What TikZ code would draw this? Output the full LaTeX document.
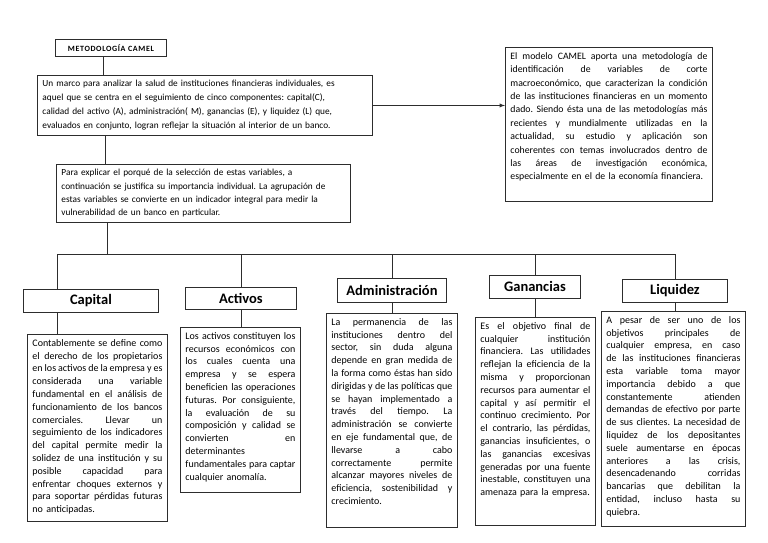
\documentclass[tikz,border=0pt]{standalone}
\usepackage{fontspec}
\setmainfont{Carlito}
\usetikzlibrary{positioning}
\definecolor{linec}{RGB}{45,45,45}
\newcommand\jl[1]{\noindent\hbox to\hsize{\spaceskip0pt\xspaceskip0pt #1}\\}
\tikzset{
	box/.style={draw=linec,line width=0.9pt,fill=white,anchor=north west,inner xsep=5pt,inner ysep=5pt,font=\fontsize{10}{12.8}\selectfont\frenchspacing\parindent0pt},
	head/.style={draw=linec,line width=0.9pt,fill=white,anchor=north west,inner sep=0pt,font=\bfseries\fontsize{14.5}{16}\selectfont}
}
\begin{document}
\begin{tikzpicture}[>=latex,x=1pt,y=-1pt,line width=0.9pt,draw=linec]
		\useasboundingbox[fill=white] (0,0) rectangle (768,543);
		\node[draw=linec,anchor=north west,minimum width=111pt,minimum height=17pt,inner sep=0pt,font=\bfseries\fontsize{8}{10}\selectfont\addfontfeature{LetterSpace=8}] (title) at (55,39) {METODOLOGÍA CAMEL};
		\node[box,text width=325pt,font=\fontsize{9.3}{14}\selectfont\frenchspacing\parindent0pt] (marco) at (37,75) {Un marco para analizar la salud de instituciones financieras individuales, es\\aquel que se centra en el seguimiento de cinco componentes: capital(C),\\calidad del activo (A), administración( M), ganancias (E), y liquidez (L) que,\\evaluados en conjunto, logran reflejar la situación al interior de un banco.};
		\node[box,text width=197pt,text depth=137pt,font=\fontsize{9.8}{13.4}\selectfont\frenchspacing\parindent0pt] (camel) at (505,47) {\jl{El modelo CAMEL aporta una metodología de}\jl{identificación de variables de corte}\jl{macroeconómico, que caracterizan la condición}\jl{de las instituciones financieras en un momento}\jl{dado. Siendo ésta una de las metodologías más}\jl{recientes y mundialmente utilizadas en la}\jl{actualidad, su estudio y aplicación son}\jl{coherentes con temas involucrados dentro de}\jl{las áreas de investigación económica,}\mbox{especialmente en el de la economía financiera.}};
		\node[box,text width=284pt,font=\fontsize{9.3}{13.2}\selectfont\frenchspacing\parindent0pt] (porque) at (56,164) {Para explicar el porqué de la selección de estas variables, a\\continuación se justifica su importancia individual. La agrupación de\\estas variables se convierte en un indicador integral para medir la\\vulnerabilidad de un banco en particular.};
		\node[head,minimum width=135pt,minimum height=23pt] (capital) at (23,289) {Capital};
		\node[head,minimum width=111pt,minimum height=22pt] (activos) at (185,287) {Activos};
		\node[head,minimum width=109pt,minimum height=24pt] (admin) at (337,278) {Administración};
		\node[head,minimum width=91pt,minimum height=23pt] (ganan) at (489,275) {Ganancias};
		\node[head,minimum width=105pt,minimum height=23pt] (liquidez) at (622,279) {Liquidez};
		\node[box,text width=130pt,text depth=170.5pt] (tcapital) at (27,334) {\jl{Contablemente se define como}\jl{el derecho de los propietarios}\jl{en los activos de la empresa y es}\jl{considerada una variable}\jl{fundamental en el análisis de}\jl{funcionamiento de los bancos}\jl{comerciales. Llevar un}\jl{seguimiento de los indicadores}\jl{del capital permite medir la}\jl{solidez de una institución y su}\jl{posible capacidad para}\jl{enfrentar choques externos y}\jl{para soportar pérdidas futuras}no anticipadas.};
		\node[box,text width=110pt,text depth=148.5pt] (tactivos) at (180,327) {\jl{Los activos constituyen los}\jl{recursos económicos con}\jl{los cuales cuenta una}\jl{empresa y se espera}\jl{beneficien las operaciones}\jl{futuras. Por consiguiente,}\jl{la evaluación de su}\jl{composición y calidad se}\jl{convierten en}determinantes\\\jl{fundamentales para captar}cualquier anomalía.};
		\node[box,text width=121pt,text depth=197.5pt] (tadmin) at (326,313) {\jl{La permanencia de las}\jl{instituciones dentro del}\jl{sector, sin duda alguna}\jl{depende en gran medida de}\jl{la forma como éstas han sido}\jl{dirigidas y de las políticas que}\jl{se hayan implementado a}\jl{través del tiempo. La}\jl{administración se convierte}\jl{en eje fundamental que, de}\jl{llevarse a cabo}\jl{correctamente permite}\jl{alcanzar mayores niveles de}\jl{eficiencia, sostenibilidad y}crecimiento.};
		\node[box,text width=110pt,text depth=191.5pt] (tganan) at (475,317) {\jl{Es el objetivo final de}\jl{cualquier institución}\jl{financiera. Las utilidades}\jl{reflejan la eficiencia de la}\jl{misma y proporcionan}\jl{recursos para aumentar el}\jl{capital y así permitir el}\jl{continuo crecimiento. Por}\jl{el contrario, las pérdidas,}\jl{ganancias insuficientes, o}\jl{las ganancias excesivas}\jl{generadas por una fuente}\jl{inestable, constituyen una}amenaza para la empresa.};
		\node[box,text width=134pt,text depth=198.5pt] (tliquidez) at (601,311) {\jl{A pesar de ser uno de los}\jl{objetivos principales de}\jl{cualquier empresa, en caso}\jl{de las instituciones financieras}\jl{esta variable toma mayor}\jl{importancia debido a que}\jl{constantemente atienden}\jl{demandas de efectivo por parte}\jl{de sus clientes. La necesidad de}\jl{liquidez de los depositantes}\jl{suele aumentarse en épocas}\jl{anteriores a las crisis,}\jl{desencadenando corridas}\jl{bancarias que debilitan la}\jl{entidad, incluso hasta su}quiebra.};
		\coordinate (bus) at (0,254);\coordinate (m1) at ([xshift=68pt]marco.south west);\coordinate (p1) at ([xshift=51pt]porque.south west);\coordinate (c1) at ([xshift=34pt]capital.north west);
		\draw ([xshift=-8pt]title.south) -- ([xshift=-8pt]title.south |- marco.north);
		\draw[->] (marco.east) -- (marco.east -| camel.west);
		\draw (m1) -- (m1 |- porque.north);\draw (p1) -- (p1 |- bus);
		\draw (c1 |- bus) -- (liquidez.north |- bus);\draw (c1 |- bus) -- (c1);\draw (capital.south -| c1) -- (c1 |- tcapital.north);
		\foreach \n in {activos,admin,ganan,liquidez} {\draw (\n.north |- bus) -- (\n.north);\draw (\n.south) -- (\n.south |- t\n.north);}
	\end{tikzpicture}
\end{document}
